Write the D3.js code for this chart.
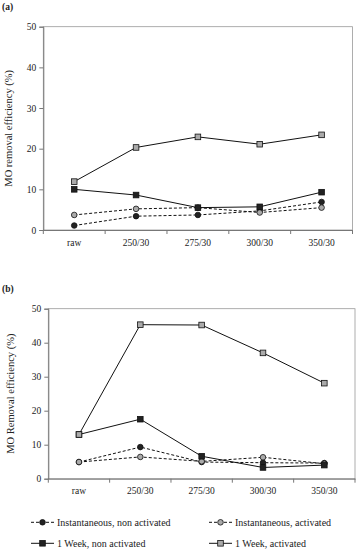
<!DOCTYPE html>
<html><head><meta charset="utf-8">
<script src="https://cdn.jsdelivr.net/npm/d3@7"></script>
<style>body{margin:0;background:#fff}svg{display:block}text{font-family:"Liberation Serif","DejaVu Serif",serif;fill:#222}</style>
</head><body><svg id="c" width="361" height="550"></svg>
<script>
const categories = ["raw","250/30","275/30","300/30","350/30"];
const yTicks = [0,10,20,30,40,50];
const seriesNames = ["Instantaneous, non activated","Instantaneous, activated","1 Week, non activated","1 Week, activated"];
// Panel (a)
const aInstNon = [1.1,3.4,3.7,4.7,6.9];
const aInstAct = [3.7,5.2,5.5,4.3,5.5];
const aWeekNon = [10.0,8.6,5.5,5.7,9.3];
const aWeekAct = [11.9,20.3,22.9,21.1,23.4];
// Panel (b)
const bInstNon = [4.9,9.3,4.9,4.7,4.6];
const bInstAct = [4.9,6.4,5.1,6.3,4.4];
const bWeekNon = [13.0,17.5,6.6,3.3,4.0];
const bWeekAct = [13.0,45.3,45.2,37.0,28.1];

const styles = [
  {dash:"3,2", shape:"circle", fill:"#222"},
  {dash:"3,2", shape:"circle", fill:"#aaa"},
  {dash:null, shape:"square", fill:"#222"},
  {dash:null, shape:"square", fill:"#aaa"}
];
const svg = d3.select("#c");
const fs = 9.5;

function panel(cfg){
  const g = svg.append("g");
  const x = d3.scaleBand().domain(categories).range([cfg.left, cfg.right]);
  const y = d3.scaleLinear().domain([0,50]).range([cfg.bottom, cfg.top]);
  g.append("rect").attr("x",cfg.left).attr("y",cfg.top).attr("width",cfg.right-cfg.left).attr("height",cfg.bottom-cfg.top)
    .attr("fill","none").attr("stroke","#999").attr("stroke-width",0.8);
  const ya = g.append("g").attr("transform",`translate(${cfg.left},0)`)
    .call(d3.axisLeft(y).tickValues(yTicks).tickSize(4).tickPadding(3));
  ya.select(".domain").attr("stroke","#777");
  ya.selectAll(".tick line").attr("stroke","#777");
  ya.selectAll("text").style("font-size",fs+"px").attr("fill","#222");
  const xa = g.append("g").attr("transform",`translate(0,${cfg.bottom})`)
    .call(d3.axisBottom(x).tickSize(0).tickPadding(9));
  xa.select(".domain").attr("stroke","#777");
  xa.selectAll("text").style("font-size",fs+"px").attr("fill","#222");
  const bounds = categories.map(c=>x(c)).concat([cfg.right]);
  g.selectAll("line.bt").data(bounds).join("line").attr("class","bt")
    .attr("x1",d=>d).attr("x2",d=>d).attr("y1",cfg.bottom).attr("y2",cfg.bottom+4).attr("stroke","#777");
  g.append("text").attr("transform",`translate(${cfg.titleX},${(cfg.top+cfg.bottom)/2}) rotate(-90)`)
    .attr("text-anchor","middle").style("font-size","10.5px").text(cfg.ytitle);
  g.append("text").attr("x",2).attr("y",cfg.labelY).style("font-size","9.5px").style("font-weight","bold").text(cfg.label);
  const cx = c=>x(c)+x.bandwidth()/2;
  const line = d3.line().x((d,i)=>cx(categories[i])).y(d=>y(d));
  cfg.series.forEach((s,k)=>{
    const st = styles[k];
    g.append("path").attr("d",line(s)).attr("fill","none").attr("stroke","#111").attr("stroke-width",1)
      .attr("stroke-dasharray",st.dash);
    const pts = g.selectAll(null).data(s).enter();
    if(st.shape==="circle"){
      pts.append("circle").attr("cx",(d,i)=>cx(categories[i])).attr("cy",d=>y(d)).attr("r",2.8)
        .attr("fill",st.fill).attr("stroke","#111").attr("stroke-width",0.8);
    } else {
      pts.append("rect").attr("x",(d,i)=>cx(categories[i])-2.8).attr("y",d=>y(d)-2.8).attr("width",5.6).attr("height",5.6)
        .attr("fill",st.fill).attr("stroke","#111").attr("stroke-width",0.8);
    }
  });
}
panel({left:43.3,right:352.5,top:26.7,bottom:230,titleX:12,labelY:10,label:"(a)",ytitle:"MO removal efficiency (%)",
  series:[aInstNon,aInstAct,aWeekNon,aWeekAct]});
panel({left:48.3,right:355,top:308.7,bottom:478.7,titleX:14,labelY:292,label:"(b)",ytitle:"MO Removal efficiency (%)",
  series:[bInstNon,bInstAct,bWeekNon,bWeekAct]});

const legPos = [[31,522.3],[209,522.3],[31,543.3],[209,543.3]];
seriesNames.forEach((n,k)=>{
  const [lx,ly] = legPos[k]; const st = styles[k];
  const g = svg.append("g");
  g.append("line").attr("x1",lx).attr("x2",lx+23).attr("y1",ly).attr("y2",ly).attr("stroke","#111").attr("stroke-dasharray",st.dash);
  if(st.shape==="circle") g.append("circle").attr("cx",lx+11.5).attr("cy",ly).attr("r",2.8).attr("fill",st.fill).attr("stroke","#111").attr("stroke-width",0.8);
  else g.append("rect").attr("x",lx+11.5-2.8).attr("y",ly-2.8).attr("width",5.6).attr("height",5.6).attr("fill",st.fill).attr("stroke","#111").attr("stroke-width",0.8);
  g.append("text").attr("x",lx+26).attr("y",ly+3.3).style("font-size","10px").text(n);
});
</script></body></html>
